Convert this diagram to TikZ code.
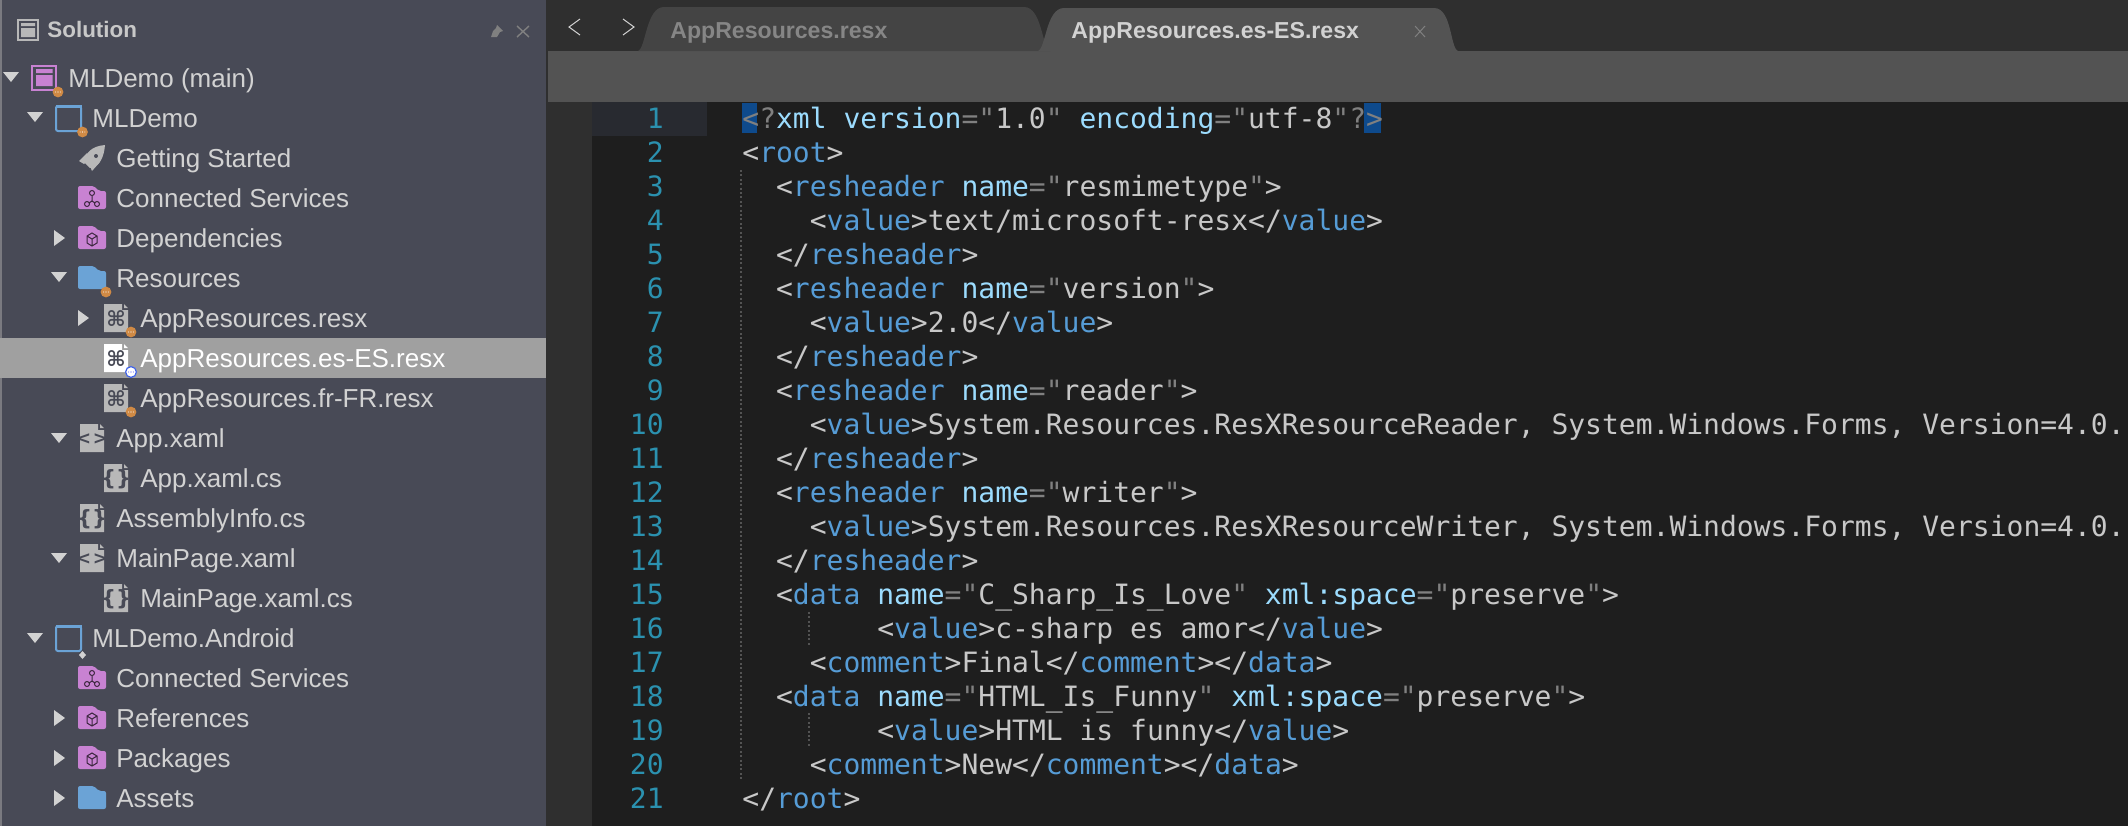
\documentclass[tikz,border=0pt]{standalone}
\usepackage{fontspec}
\setmainfont{Liberation Sans}
\newfontfamily\codefont{DejaVu Sans Mono}
\newfontfamily\symfont{DejaVu Sans}
\definecolor{sidebg}{HTML}{484A56}
\definecolor{darkbar}{HTML}{2F2F2F}
\definecolor{toolbar}{HTML}{535353}
\definecolor{tabone}{HTML}{444444}
\definecolor{editbg}{HTML}{1E1E1E}
\definecolor{lnhl}{HTML}{282A30}
\definecolor{lnum}{HTML}{2B91AF}
\definecolor{kw}{HTML}{569CD6}
\definecolor{attr}{HTML}{9CDCFE}
\definecolor{txt}{HTML}{C8C8C8}
\definecolor{pnc}{HTML}{808080}
\definecolor{sel}{HTML}{A0A0A0}
\definecolor{lab}{HTML}{D2D2D2}
\definecolor{purp}{HTML}{C882D2}
\definecolor{blu}{HTML}{6BA3D6}
\definecolor{ora}{HTML}{D08A45}
\definecolor{icg}{HTML}{B8B8B8}
\definecolor{brk}{HTML}{0E4A8C}
\definecolor{strip}{HTML}{7A7A80}
\newcommand{\K}[1]{\textcolor{kw}{#1}}
\newcommand{\A}[1]{\textcolor{attr}{#1}}
\newcommand{\T}[1]{\textcolor{txt}{#1}}
\newcommand{\Pn}[1]{\textcolor{pnc}{#1}}
\newcommand{\Lt}{\textcolor{txt}{<}}
\newcommand{\Gt}{\textcolor{txt}{>}}
\newcommand{\Sl}{\textcolor{txt}{/}}
\newcommand{\codeln}[3]{%
  \node[numlab] (n#1) at (664,{128+34*(#1-1)}) {#1};
  \node[codelab] (c#1) at ({742+16.86*#2},{128+34*(#1-1)}) {#3};}
\newcommand{\tridown}[2]{\fill[tri] (#1-8,#2-5) -- (#1+8,#2-5) -- (#1,#2+5) -- cycle;}
\newcommand{\triright}[2]{\fill[tri] (#1,#2-8) -- (#1+11,#2) -- (#1,#2+8) -- cycle;}
\newcommand{\folder}[3]{\fill[#1,rounded corners=1pt] (#2,#3-12) -- (#2+16,#3-12) -- (#2+21,#3-7) -- (#2+28,#3-7) -- (#2+28,#3+11) -- (#2,#3+11) -- cycle;}
\newcommand{\cube}[2]{\draw[glyph] (#1+14,#2-5) -- (#1+19,#2-2) -- (#1+19,#2+5) -- (#1+14,#2+8) -- (#1+9,#2+5) -- (#1+9,#2-2) -- cycle (#1+9,#2-2) -- (#1+14,#2+1) -- (#1+19,#2-2) (#1+14,#2+1) -- (#1+14,#2+8);}
\newcommand{\hub}[2]{\draw[glyph] (#1+14,#2-5) circle (2.5) (#1+9,#2+6) circle (2.5) (#1+19,#2+6) circle (2.5) (#1+14,#2-2.5) -- (#1+14,#2+3) -- (#1+11,#2+5) (#1+14,#2+3) -- (#1+17,#2+5);}
\newcommand{\docicon}[5][icg]{\fill[#1] (#2,#3-14) -- (#2+18,#3-14) -- (#2+18,#3-8) -- (#2+24,#3-8) -- (#2+24,#3+14) -- (#2,#3+14) -- cycle;
  \fill[#1] (#2+20,#3-14) -- (#2+24,#3-10) -- (#2+20,#3-10) -- cycle;
  \node[docglyph] (#4) at (#2+12,#3+1) {#5};}
\newcommand{\badge}[2]{\fill[ora] (#1,#2) circle (5.4);\fill[white] (#1-2.4,#2) circle (.55) (#1,#2) circle (.55) (#1+2.4,#2) circle (.55);}
\newcommand{\proj}[2]{\draw[blu,line width=1pt,rounded corners=1pt] (#1,#2-12) rectangle (#1+25,#2+13);\fill[blu] (#1-.5,#2-13) rectangle (#1+25.5,#2-10);}
\tikzset{
  x=0.5pt,y=-0.5pt,
  numlab/.style={anchor=base east,inner sep=0,text=lnum,font=\codefont\fontsize{14}{14}\selectfont},
  codelab/.style={anchor=base west,inner sep=0,font=\codefont\fontsize{14}{14}\selectfont},
  rowtext/.style={anchor=base west,inner sep=0,font=\fontsize{13}{13}\selectfont},
  tabtext/.style={anchor=base west,inner sep=0,font=\bfseries\fontsize{11.55}{12}\selectfont},
  tri/.style={fill=lab},
  glyph/.style={draw=black!70!purp,line width=.5pt},
  docglyph/.style={inner sep=0,text=sidebg,font=\symfont\bfseries\fontsize{10.5}{10.5}\selectfont},
  guide/.style={draw=gray!65!black,line width=.6pt,dash pattern=on 1pt off 1.2pt},
}
\begin{document}
\begin{tikzpicture}
\useasboundingbox (0,0) rectangle (2128,826);
% panels
\fill[sidebg] (0,0) rectangle (546,826);
\fill[strip] (0,0) rectangle (2,826);
\fill[darkbar] (546,0) rectangle (2128,826);
\fill[editbg] (592,102) rectangle (2128,826);
\fill[lnhl] (592,102) rectangle (707,136);
\fill[toolbar] (548,51) rectangle (2128,102);
% tabs
\fill[tabone] (638,51) .. controls (646,48) and (646,7) .. (664,7) -- (1024,7) .. controls (1042,7) and (1042,48) .. (1050,51) -- cycle;
\fill[toolbar] (1038,51) .. controls (1046,48) and (1046,8) .. (1064,8) -- (1434,8) .. controls (1452,8) and (1450,48) .. (1458,51) -- cycle;
\node[tabtext,text=gray!95] (tab1) at (670,38) {AppResources.resx};
\node[tabtext,text=lab] (tab2) at (1071,38) {AppResources.es-ES.resx};
\draw[pnc,line width=.5pt] (1415,26) -- (1425,37) (1425,26) -- (1415,37);
\draw[lab,line width=.5pt] (580,19) -- (569,27) -- (580,35);
\draw[lab,line width=.5pt] (623,19) -- (634,27) -- (623,35);
% header
\draw[icg,line width=1pt] (18,20) rectangle (38,40);
\fill[icg] (21,23) rectangle (35,26) (21,28) rectangle (35,37);
\node[anchor=base west,inner sep=0,text=txt,font=\bfseries\fontsize{11.2}{12}\selectfont] (hdr) at (47,37) {Solution};
\fill[pnc] (497,25) -- (503,31) -- (500,32) -- (497,37) -- (491,37) -- (493,31) -- (496,28) -- cycle;
\draw[pnc,line width=.7pt] (517,26) -- (529,37) (529,26) -- (517,37);
% selected row
\fill[sel] (0,338) rectangle (546,378);
% disclosure triangles
\tridown{11}{77}\tridown{35}{117}\triright{54}{238}\tridown{59}{277}\triright{78}{318}
\tridown{59}{438}\tridown{59}{558}\tridown{35}{638}\triright{54}{718}\triright{54}{758}\triright{54}{798}
% solution icon
\draw[purp,line width=1pt] (32,66) rectangle (56,90);
\fill[purp] (36,69) rectangle (52.5,73) (36,75) rectangle (52.5,86);
\badge{58}{92}
% projects
\proj{56}{118}\badge{82.5}{132}
\proj{56}{638}
\fill[lab] (82.5,651) -- (86,655) -- (82.5,659) -- (79,655) -- cycle;
% rocket
\fill[icg] (105,145) .. controls (92,146) and (85,153) .. (84,162) -- (90,168) .. controls (99,167) and (104,158) .. (105,145) -- cycle;
\fill[icg] (79,161) -- (87,153) -- (88,160) -- (84,164) -- cycle (92,171) -- (100,162) -- (92,166) -- (90,166) -- cycle;
\fill[sidebg] (96,156) circle (2);
% folders
\folder{purp}{78}{198}\hub{78}{198}
\folder{purp}{78}{238}\cube{78}{238}
\folder{blu}{78}{278}\badge{106}{292}
\folder{purp}{78}{678}\hub{78}{678}
\folder{purp}{78}{718}\cube{78}{718}
\folder{purp}{78}{758}\cube{78}{758}
\folder{blu}{78}{798}
% documents
\docicon{104}{318}{dg1}{⌘}\badge{131}{332}
\docicon[white]{104}{358}{dg2}{⌘}
\fill[white] (131,372) circle (5.6);\draw[blu!60!blue,line width=.6pt] (131,372) circle (5.4);
\fill[blue!70!white] (128.6,372) circle (.55) (131,372) circle (.55) (133.4,372) circle (.55);
\docicon{104}{398}{dg3}{⌘}\badge{131}{412}
\docicon{80}{438}{dg4}{\fontsize{9}{9}\selectfont<\hspace{.9pt}>}
\docicon{104}{478}{dg5}{\{\}}
\docicon{80}{518}{dg6}{\{\}}
\docicon{80}{558}{dg7}{\fontsize{9}{9}\selectfont<\hspace{.9pt}>}
\docicon{104}{598}{dg8}{\{\}}
% labels
\node[rowtext,text=lab] (r1) at (68,87) {MLDemo (main)};
\node[rowtext,text=lab] (r2) at (92,127) {MLDemo};
\node[rowtext,text=lab] (r3) at (116,167) {Getting Started};
\node[rowtext,text=lab] (r4) at (116,207) {Connected Services};
\node[rowtext,text=lab] (r5) at (116,247) {Dependencies};
\node[rowtext,text=lab] (r6) at (116,287) {Resources};
\node[rowtext,text=lab] (r7) at (140,327) {AppResources.resx};
\node[rowtext,text=white] (r8) at (140,367) {AppResources.es-ES.resx};
\node[rowtext,text=lab] (r9) at (140,407) {AppResources.fr-FR.resx};
\node[rowtext,text=lab] (r10) at (116,447) {App.xaml};
\node[rowtext,text=lab] (r11) at (140,487) {App.xaml.cs};
\node[rowtext,text=lab] (r12) at (116,527) {AssemblyInfo.cs};
\node[rowtext,text=lab] (r13) at (116,567) {MainPage.xaml};
\node[rowtext,text=lab] (r14) at (140,607) {MainPage.xaml.cs};
\node[rowtext,text=lab] (r15) at (92,647) {MLDemo.Android};
\node[rowtext,text=lab] (r16) at (116,687) {Connected Services};
\node[rowtext,text=lab] (r17) at (116,727) {References};
\node[rowtext,text=lab] (r18) at (116,767) {Packages};
\node[rowtext,text=lab] (r19) at (116,807) {Assets};
% editor
\fill[brk] (742,103) rectangle (757,133);
\fill[brk] (1364,103) rectangle (1381,133);
\draw[guide] (741,170) -- (741,781);
\draw[guide] (809,612) -- (809,646);
\draw[guide] (809,713) -- (809,748);
\codeln{1}{0}{\Pn{<?}\A{xml} \A{version}\Pn{=}\Pn{"}\T{1.0}\Pn{"} \A{encoding}\Pn{=}\Pn{"}\T{utf-8}\Pn{"?}\Pn{>}}
\codeln{2}{0}{\Lt\K{root}\Gt}
\codeln{3}{2}{\Lt\K{resheader} \A{name}\Pn{=}\Pn{"}\T{resmimetype}\Pn{"}\Gt}
\codeln{4}{4}{\Lt\K{value}\Gt\T{text/microsoft-resx}\Lt\Sl\K{value}\Gt}
\codeln{5}{2}{\Lt\Sl\K{resheader}\Gt}
\codeln{6}{2}{\Lt\K{resheader} \A{name}\Pn{=}\Pn{"}\T{version}\Pn{"}\Gt}
\codeln{7}{4}{\Lt\K{value}\Gt\T{2.0}\Lt\Sl\K{value}\Gt}
\codeln{8}{2}{\Lt\Sl\K{resheader}\Gt}
\codeln{9}{2}{\Lt\K{resheader} \A{name}\Pn{=}\Pn{"}\T{reader}\Pn{"}\Gt}
\codeln{10}{4}{\Lt\K{value}\Gt\T{System.Resources.ResXResourceReader, System.Windows.Forms, Version=4.0.}}
\codeln{11}{2}{\Lt\Sl\K{resheader}\Gt}
\codeln{12}{2}{\Lt\K{resheader} \A{name}\Pn{=}\Pn{"}\T{writer}\Pn{"}\Gt}
\codeln{13}{4}{\Lt\K{value}\Gt\T{System.Resources.ResXResourceWriter, System.Windows.Forms, Version=4.0.}}
\codeln{14}{2}{\Lt\Sl\K{resheader}\Gt}
\codeln{15}{2}{\Lt\K{data} \A{name}\Pn{=}\Pn{"}\T{C\_Sharp\_Is\_Love}\Pn{"} \A{xml:space}\Pn{=}\Pn{"}\T{preserve}\Pn{"}\Gt}
\codeln{16}{8}{\Lt\K{value}\Gt\T{c-sharp es amor}\Lt\Sl\K{value}\Gt}
\codeln{17}{4}{\Lt\K{comment}\Gt\T{Final}\Lt\Sl\K{comment}\Gt\Lt\Sl\K{data}\Gt}
\codeln{18}{2}{\Lt\K{data} \A{name}\Pn{=}\Pn{"}\T{HTML\_Is\_Funny}\Pn{"} \A{xml:space}\Pn{=}\Pn{"}\T{preserve}\Pn{"}\Gt}
\codeln{19}{8}{\Lt\K{value}\Gt\T{HTML is funny}\Lt\Sl\K{value}\Gt}
\codeln{20}{4}{\Lt\K{comment}\Gt\T{New}\Lt\Sl\K{comment}\Gt\Lt\Sl\K{data}\Gt}
\codeln{21}{0}{\Lt\Sl\K{root}\Gt}
\end{tikzpicture}
\end{document}
